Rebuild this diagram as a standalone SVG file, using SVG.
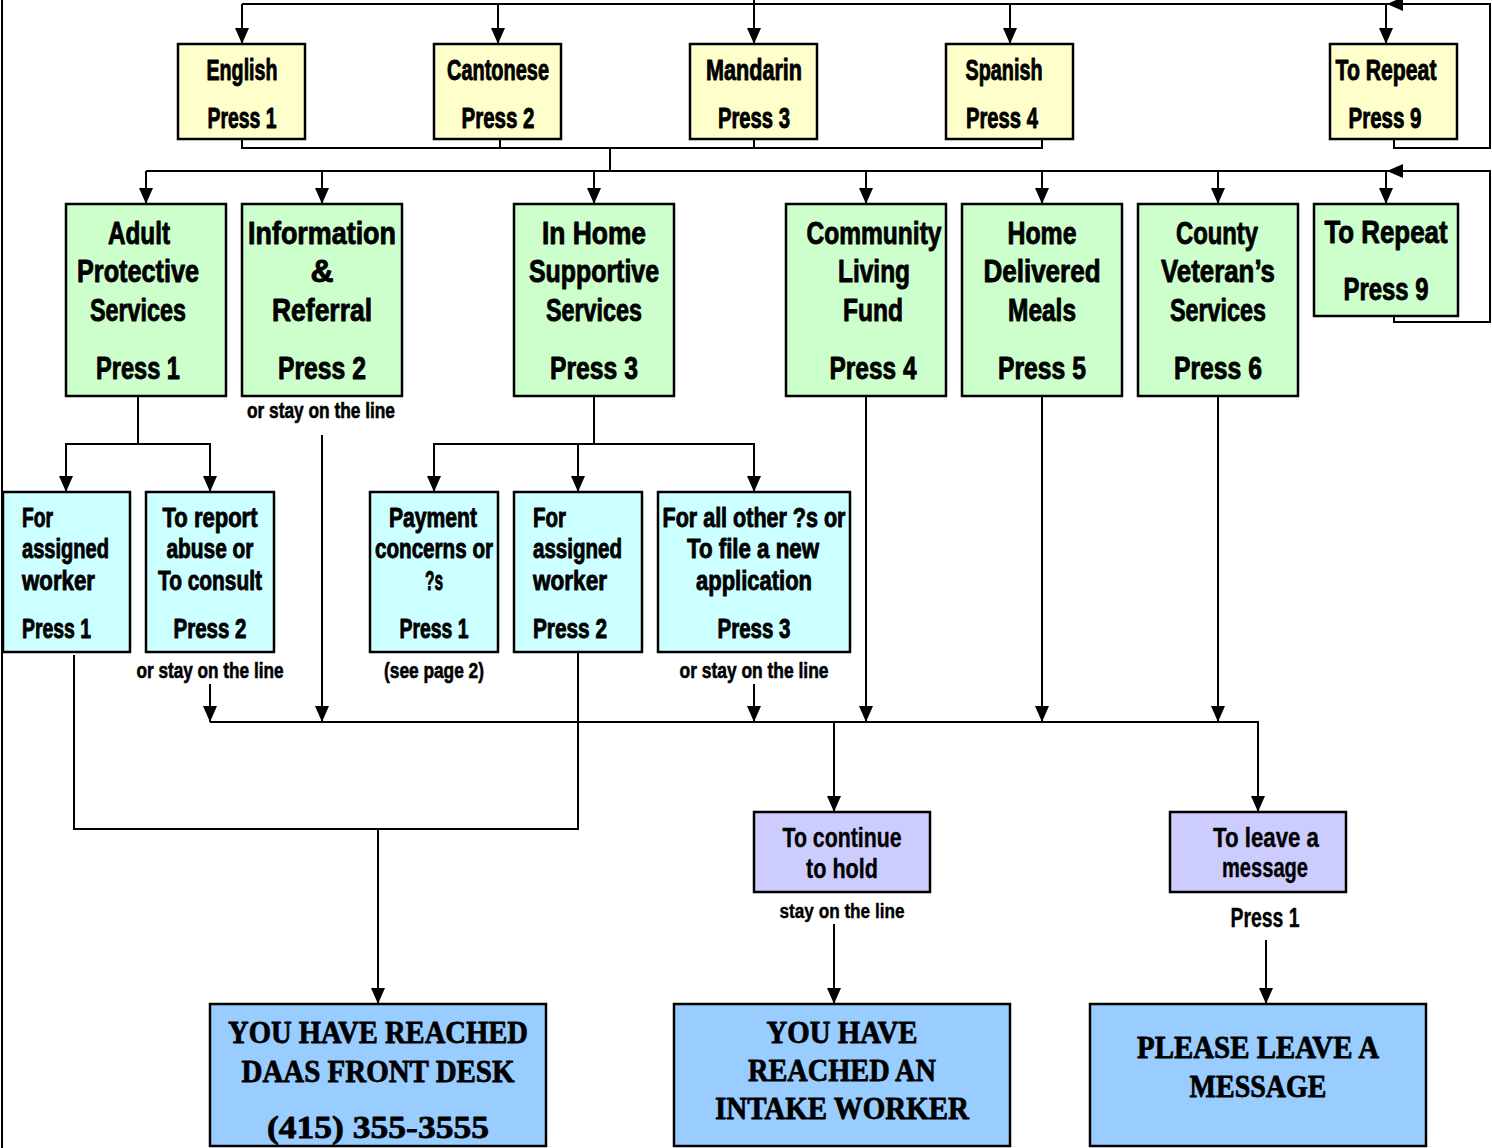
<svg xmlns="http://www.w3.org/2000/svg" width="1492" height="1148" viewBox="0 0 1492 1148">
<defs>
<marker id="ah" markerUnits="userSpaceOnUse" markerWidth="16" markerHeight="14" viewBox="0 0 16 14" refX="16" refY="7" orient="auto">
<path d="M0,0 L16,7 L0,14 Z" fill="#000"/>
</marker>
<style>
.bg{fill:#fff}
.box{stroke:#000;stroke-width:2.5}
.y{fill:#FFFFCC}.g{fill:#CCFFCC}.c{fill:#CCFFFF}.l{fill:#CCCCFF}.b{fill:#99CCFF}
.cn{fill:none;stroke:#000;stroke-width:2}
.ar{fill:none;stroke:#000;stroke-width:2;marker-end:url(#ah)}
text{font-family:"Liberation Sans","DejaVu Sans Condensed",Arial,sans-serif;font-weight:bold;fill:#000;stroke:#000;stroke-width:0.9;stroke-linejoin:round}
.t29{font-size:29px;text-anchor:middle}
.t32{font-size:32px;text-anchor:middle}
.t27{font-size:27px;text-anchor:middle}
.t27s{font-size:27px;text-anchor:start}
.t22{font-size:22px;text-anchor:middle;stroke-width:0.6}
.t20{font-size:20px;text-anchor:middle;stroke-width:0.4}
.lv{stroke-width:0.4}
.sf{font-family:"Liberation Serif","Times New Roman",serif;font-size:32px;text-anchor:middle;stroke-width:0.8}
</style>
</defs>
<rect class="bg" x="0" y="0" width="1492" height="1148"/>

<g id="connectors">
<path class="cn" d="M2,0 V1148"/>
<path class="cn" d="M242,4 H1387"/>
<path class="ar" d="M1394,140 V148 H1490 V4 H1387"/>
<path class="ar" d="M242,4 V44"/>
<path class="ar" d="M498,4 V44"/>
<path class="ar" d="M754,0 V44"/>
<path class="ar" d="M1010,4 V44"/>
<path class="ar" d="M1386,4 V44"/>
<path class="cn" d="M242,140 V148 H1042 V140"/>
<path class="cn" d="M500,140 V148"/>
<path class="cn" d="M754,140 V148"/>
<path class="cn" d="M610,148 V171"/>
<path class="cn" d="M146,171 H1387"/>
<path class="ar" d="M1394,316 V322 H1490 V171 H1387"/>
<path class="ar" d="M146,171 V204"/>
<path class="ar" d="M322,171 V204"/>
<path class="ar" d="M594,171 V204"/>
<path class="ar" d="M866,171 V204"/>
<path class="ar" d="M1042,171 V204"/>
<path class="ar" d="M1218,171 V204"/>
<path class="ar" d="M1386,171 V204"/>
<path class="ar" d="M138,396 V444 H66 V492"/>
<path class="ar" d="M138,444 H210 V492"/>
<path class="ar" d="M594,396 V444 H434 V492"/>
<path class="ar" d="M594,444 H754 V492"/>
<path class="ar" d="M578,444 V492"/>
<path class="ar" d="M322,435 V722"/>
<path class="ar" d="M210,684 V722"/>
<path class="ar" d="M754,684 V722"/>
<path class="ar" d="M866,396 V722"/>
<path class="ar" d="M1042,396 V722"/>
<path class="ar" d="M1218,396 V722"/>
<path class="ar" d="M210,722 H1258 V812"/>
<path class="ar" d="M834,722 V812"/>
<path class="cn" d="M74,655 V829 H578 V652"/>
<path class="ar" d="M378,829 V1004"/>
<path class="ar" d="M834,924 V1004"/>
<path class="ar" d="M1266,940 V1004"/>
</g>

<g id="english">
<rect class="box y" x="178" y="44" width="127" height="95"/>
<text class="t29" x="242" y="80" textLength="71" lengthAdjust="spacingAndGlyphs">English</text>
<text class="t29" x="242" y="128" textLength="69" lengthAdjust="spacingAndGlyphs">Press 1</text>
</g>
<g id="cantonese">
<rect class="box y" x="434" y="44" width="127" height="95"/>
<text class="t29" x="498" y="80" textLength="102" lengthAdjust="spacingAndGlyphs">Cantonese</text>
<text class="t29" x="498" y="128" textLength="73" lengthAdjust="spacingAndGlyphs">Press 2</text>
</g>
<g id="mandarin">
<rect class="box y" x="690" y="44" width="127" height="95"/>
<text class="t29" x="754" y="80" textLength="96" lengthAdjust="spacingAndGlyphs">Mandarin</text>
<text class="t29" x="754" y="128" textLength="72" lengthAdjust="spacingAndGlyphs">Press 3</text>
</g>
<g id="spanish">
<rect class="box y" x="946" y="44" width="127" height="95"/>
<text class="t29" x="1004" y="80" textLength="77" lengthAdjust="spacingAndGlyphs">Spanish</text>
<text class="t29" x="1002" y="128" textLength="72" lengthAdjust="spacingAndGlyphs">Press 4</text>
</g>
<g id="repeat1">
<rect class="box y" x="1330" y="44" width="127" height="95"/>
<text class="t29" x="1386" y="80" textLength="101" lengthAdjust="spacingAndGlyphs">To Repeat</text>
<text class="t29" x="1385" y="128" textLength="73" lengthAdjust="spacingAndGlyphs">Press 9</text>
</g>

<g id="adult">
<rect class="box g" x="66" y="204" width="160" height="192"/>
<text class="t32" x="139" y="244" textLength="62" lengthAdjust="spacingAndGlyphs">Adult</text>
<text class="t32" x="138" y="282" textLength="122" lengthAdjust="spacingAndGlyphs">Protective</text>
<text class="t32" x="138" y="321" textLength="96" lengthAdjust="spacingAndGlyphs">Services</text>
<text class="t32" x="138" y="379" textLength="84" lengthAdjust="spacingAndGlyphs">Press 1</text>
</g>
<g id="information">
<rect class="box g" x="242" y="204" width="160" height="192"/>
<text class="t32" x="322" y="244" textLength="148" lengthAdjust="spacingAndGlyphs">Information</text>
<text class="t32" x="322" y="282">&amp;</text>
<text class="t32" x="322" y="321" textLength="100" lengthAdjust="spacingAndGlyphs">Referral</text>
<text class="t32" x="322" y="379" textLength="88" lengthAdjust="spacingAndGlyphs">Press 2</text>
<text class="t22" x="321" y="418" textLength="148" lengthAdjust="spacingAndGlyphs">or stay on the line</text>
</g>
<g id="inhome">
<rect class="box g" x="514" y="204" width="160" height="192"/>
<text class="t32" x="594" y="244" textLength="104" lengthAdjust="spacingAndGlyphs">In Home</text>
<text class="t32" x="594" y="282" textLength="130" lengthAdjust="spacingAndGlyphs">Supportive</text>
<text class="t32" x="594" y="321" textLength="96" lengthAdjust="spacingAndGlyphs">Services</text>
<text class="t32" x="594" y="379" textLength="88" lengthAdjust="spacingAndGlyphs">Press 3</text>
</g>
<g id="community">
<rect class="box g" x="786" y="204" width="160" height="192"/>
<text class="t32" x="874" y="244" textLength="135" lengthAdjust="spacingAndGlyphs">Community</text>
<text class="t32" x="874" y="282" textLength="72" lengthAdjust="spacingAndGlyphs">Living</text>
<text class="t32" x="873" y="321" textLength="60" lengthAdjust="spacingAndGlyphs">Fund</text>
<text class="t32" x="873" y="379" textLength="87" lengthAdjust="spacingAndGlyphs">Press 4</text>
</g>
<g id="meals">
<rect class="box g" x="962" y="204" width="160" height="192"/>
<text class="t32" x="1042" y="244" textLength="69" lengthAdjust="spacingAndGlyphs">Home</text>
<text class="t32" x="1042" y="282" textLength="117" lengthAdjust="spacingAndGlyphs">Delivered</text>
<text class="t32" x="1042" y="321" textLength="68" lengthAdjust="spacingAndGlyphs">Meals</text>
<text class="t32" x="1042" y="379" textLength="88" lengthAdjust="spacingAndGlyphs">Press 5</text>
</g>
<g id="veterans">
<rect class="box g" x="1138" y="204" width="160" height="192"/>
<text class="t32" x="1217" y="244" textLength="82" lengthAdjust="spacingAndGlyphs">County</text>
<text class="t32" x="1218" y="282" textLength="114" lengthAdjust="spacingAndGlyphs">Veteran’s</text>
<text class="t32" x="1218" y="321" textLength="96" lengthAdjust="spacingAndGlyphs">Services</text>
<text class="t32" x="1218" y="379" textLength="88" lengthAdjust="spacingAndGlyphs">Press 6</text>
</g>
<g id="repeat2">
<rect class="box g" x="1314" y="204" width="144" height="112"/>
<text class="t32" x="1386" y="243" textLength="123" lengthAdjust="spacingAndGlyphs">To Repeat</text>
<text class="t32" x="1386" y="300" textLength="85" lengthAdjust="spacingAndGlyphs">Press 9</text>
</g>

<g id="aps-worker">
<rect class="box c" x="3" y="492" width="127" height="160"/>
<text class="t27s" x="22" y="527" textLength="31" lengthAdjust="spacingAndGlyphs">For</text>
<text class="t27s" x="22" y="558" textLength="87" lengthAdjust="spacingAndGlyphs">assigned</text>
<text class="t27s" x="22" y="590" textLength="73" lengthAdjust="spacingAndGlyphs">worker</text>
<text class="t27s" x="22" y="638" textLength="69" lengthAdjust="spacingAndGlyphs">Press 1</text>
</g>
<g id="aps-report">
<rect class="box c" x="146" y="492" width="128" height="160"/>
<text class="t27" x="210" y="527" textLength="95" lengthAdjust="spacingAndGlyphs">To report</text>
<text class="t27" x="210" y="558" textLength="87" lengthAdjust="spacingAndGlyphs">abuse or</text>
<text class="t27" x="210" y="590" textLength="104" lengthAdjust="spacingAndGlyphs">To consult</text>
<text class="t27" x="210" y="638" textLength="73" lengthAdjust="spacingAndGlyphs">Press 2</text>
<text class="t22" x="210" y="678" textLength="147" lengthAdjust="spacingAndGlyphs">or stay on the line</text>
</g>
<g id="ihss-payment">
<rect class="box c" x="370" y="492" width="128" height="160"/>
<text class="t27" x="433" y="527" textLength="88" lengthAdjust="spacingAndGlyphs">Payment</text>
<text class="t27" x="434" y="558" textLength="118" lengthAdjust="spacingAndGlyphs">concerns or</text>
<text class="t27" x="434" y="590" textLength="18" lengthAdjust="spacingAndGlyphs">?s</text>
<text class="t27" x="434" y="638" textLength="69" lengthAdjust="spacingAndGlyphs">Press 1</text>
<text class="t22" x="434" y="678" textLength="100" lengthAdjust="spacingAndGlyphs">(see page 2)</text>
</g>
<g id="ihss-worker">
<rect class="box c" x="514" y="492" width="128" height="160"/>
<text class="t27s" x="533" y="527" textLength="33" lengthAdjust="spacingAndGlyphs">For</text>
<text class="t27s" x="533" y="558" textLength="89" lengthAdjust="spacingAndGlyphs">assigned</text>
<text class="t27s" x="533" y="590" textLength="74" lengthAdjust="spacingAndGlyphs">worker</text>
<text class="t27s" x="533" y="638" textLength="74" lengthAdjust="spacingAndGlyphs">Press 2</text>
</g>
<g id="ihss-other">
<rect class="box c" x="658" y="492" width="192" height="160"/>
<text class="t27" x="754" y="527" textLength="183" lengthAdjust="spacingAndGlyphs">For all other ?s or</text>
<text class="t27" x="753" y="558" textLength="132" lengthAdjust="spacingAndGlyphs">To file a new</text>
<text class="t27" x="754" y="590" textLength="116" lengthAdjust="spacingAndGlyphs">application</text>
<text class="t27" x="754" y="638" textLength="73" lengthAdjust="spacingAndGlyphs">Press 3</text>
<text class="t22" x="754" y="678" textLength="149" lengthAdjust="spacingAndGlyphs">or stay on the line</text>
</g>

<g id="hold">
<rect class="box l" x="754" y="812" width="176" height="80"/>
<text class="t27 lv" x="842" y="847" textLength="119" lengthAdjust="spacingAndGlyphs">To continue</text>
<text class="t27 lv" x="842" y="878" textLength="72" lengthAdjust="spacingAndGlyphs">to hold</text>
<text class="t20" x="842" y="918" textLength="125" lengthAdjust="spacingAndGlyphs">stay on the line</text>
</g>
<g id="leave">
<rect class="box l" x="1170" y="812" width="176" height="80"/>
<text class="t27 lv" x="1266" y="847" textLength="106" lengthAdjust="spacingAndGlyphs">To leave a</text>
<text class="t27 lv" x="1265" y="877" textLength="86" lengthAdjust="spacingAndGlyphs">message</text>
<text class="t27 lv" x="1265" y="927" textLength="69" lengthAdjust="spacingAndGlyphs">Press 1</text>
</g>

<g id="frontdesk">
<rect class="box b" x="210" y="1004" width="336" height="142"/>
<text class="sf" x="378" y="1043" textLength="300" lengthAdjust="spacingAndGlyphs">YOU HAVE REACHED</text>
<text class="sf" x="378" y="1082" textLength="273" lengthAdjust="spacingAndGlyphs">DAAS FRONT DESK</text>
<text class="sf" x="378" y="1138" textLength="222" lengthAdjust="spacingAndGlyphs">(415) 355-3555</text>
</g>
<g id="intake">
<rect class="box b" x="674" y="1004" width="336" height="142"/>
<text class="sf" x="842" y="1043" textLength="151" lengthAdjust="spacingAndGlyphs">YOU HAVE</text>
<text class="sf" x="842" y="1081" textLength="188" lengthAdjust="spacingAndGlyphs">REACHED AN</text>
<text class="sf" x="842" y="1119" textLength="254" lengthAdjust="spacingAndGlyphs">INTAKE WORKER</text>
</g>
<g id="message">
<rect class="box b" x="1090" y="1004" width="336" height="142"/>
<text class="sf" x="1258" y="1058" textLength="242" lengthAdjust="spacingAndGlyphs">PLEASE LEAVE A</text>
<text class="sf" x="1258" y="1097" textLength="137" lengthAdjust="spacingAndGlyphs">MESSAGE</text>
</g>
</svg>
